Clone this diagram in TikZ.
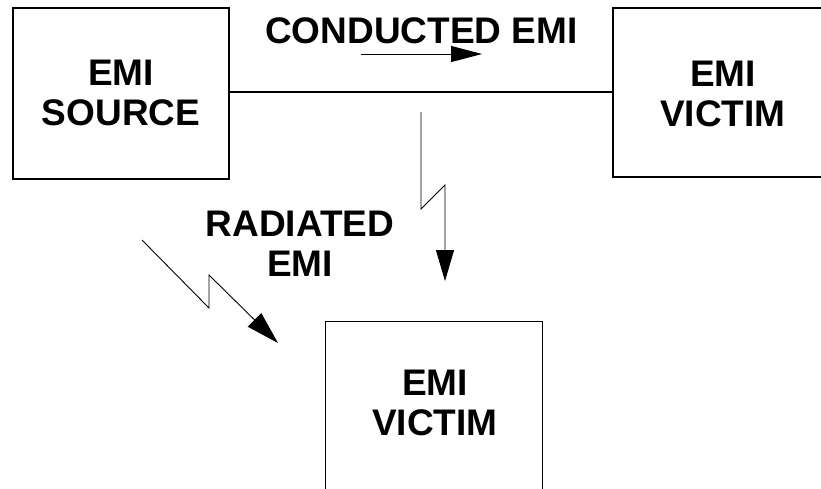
\documentclass[tikz,border=0pt]{standalone}
\usepackage{fontspec}
\setmainfont{Liberation Sans}
\usetikzlibrary{arrows.meta}
\tikzset{
  box/.style={draw=black, line width=1.2pt, minimum width=216pt, inner sep=0pt},
  lbl/.style={font=\bfseries\fontsize{37}{40}\selectfont, align=center, inner sep=0pt},
  wire/.style={line width=1.1pt},
  zig/.style={line width=0.9pt, -{Triangle[length=31pt,width=18pt]}},
  zigd/.style={line width=0.9pt, -{Triangle[length=33pt,width=19pt]}},
  cond/.style={line width=1pt, -{Triangle[length=31pt,width=16pt]}}
}
\begin{document}
\begin{tikzpicture}[x=1pt,y=-1pt]
\useasboundingbox (0,0) rectangle (821,488);
% boxes
\node[box, minimum height=171pt] (src) at (121,93.5) {};
\node[box, minimum height=169pt, minimum width=220pt] (vic1) at (723,92.5) {};
\node[box, minimum height=190pt, minimum width=217pt, anchor=north west] (vic2) at (325,321) {};
% texts
\node[lbl] (srct) at (121,93) {EMI\\SOURCE};
\node[lbl] (vic1t) at (723,93.5) {EMI\\VICTIM};
\node[lbl] (vic2t) at (435,403) {EMI\\VICTIM};
\node[lbl] (condt) at (421.5,31) {CONDUCTED EMI};
\node[lbl] (radt) at (300,243.5) {RADIATED\\EMI};
% conducted path
\coordinate (lvl) at (420,92);
\draw[wire] (src.east |- lvl) -- (vic1.west |- lvl);
\coordinate (c1) at (361,54);
\coordinate (c2) at (482,54);
\draw[cond] (c1) -- (c2);
% radiated paths
\coordinate (v1) at (421,112);
\coordinate (v2) at (421,209);
\coordinate (v3) at (445,185);
\coordinate (v4) at (445,281);
\draw[zig] (v1) -- (v2) -- (v3) -- (v4);
\coordinate (d1) at (142,240);
\coordinate (d2) at (209,308);
\coordinate (d3) at (209,275);
\coordinate (d4) at (278,343);
\draw[zigd] (d1) -- (d2) -- (d3) -- (d4);
\end{tikzpicture}
\end{document}
